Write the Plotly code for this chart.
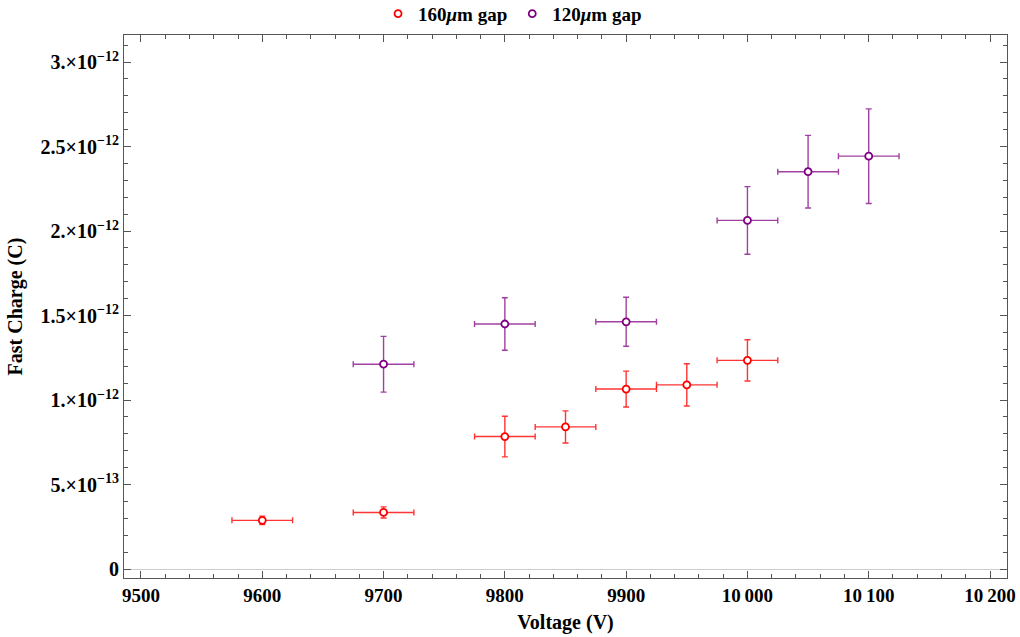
import plotly.graph_objects as go

# Data
v160 = [9600, 9700, 9800, 9850, 9900, 9950, 10000]
q160 = [0.288e-12, 0.335e-12, 0.784e-12, 0.841e-12, 1.065e-12, 1.090e-12, 1.235e-12]
e160 = [0.025e-12, 0.033e-12, 0.120e-12, 0.095e-12, 0.106e-12, 0.125e-12, 0.122e-12]

v120 = [9700, 9800, 9900, 10000, 10050, 10100]
q120 = [1.212e-12, 1.450e-12, 1.463e-12, 2.063e-12, 2.351e-12, 2.443e-12]
e120 = [0.165e-12, 0.155e-12, 0.145e-12, 0.200e-12, 0.215e-12, 0.280e-12]

xerr = 25

yticks = [0, 0.5e-12, 1.0e-12, 1.5e-12, 2.0e-12, 2.5e-12, 3.0e-12]
yticktext = ["0", "5.×10<sup>−13</sup>", "1.×10<sup>−12</sup>", "1.5×10<sup>−12</sup>",
             "2.×10<sup>−12</sup>", "2.5×10<sup>−12</sup>", "3.×10<sup>−12</sup>"]
xticks = [9500, 9600, 9700, 9800, 9900, 10000, 10100, 10200]
xticktext = ["9500", "9600", "9700", "9800", "9900", "10\u2009000", "10\u2009100", "10\u2009200"]

FONT = "Liberation Serif"

fig = go.Figure()

def add_series(x, y, ey, color, ecolor, name):
    fig.add_trace(go.Scatter(
        x=x, y=y, mode="markers", name=name,
        marker=dict(symbol="circle", size=7, color="white",
                    line=dict(color=color, width=1.8)),
        error_y=dict(type="data", array=ey, visible=True, color=ecolor,
                     thickness=1.4, width=3),
        error_x=dict(type="constant", value=xerr, visible=True, color=ecolor,
                     thickness=1.4, width=3),
    ))

add_series(v160, q160, e160, "#ff0000", "rgba(255,0,0,0.8)", "160<i>μ</i>m gap")
add_series(v120, q120, e120, "#800080", "rgba(128,0,128,0.75)", "120<i>μ</i>m gap")

axis_common = dict(
    showline=True, linecolor="#555555", linewidth=1, mirror="ticks",
    ticks="inside", ticklen=7, tickcolor="#555555", tickwidth=1,
    showgrid=False, automargin=False, ticklabeloverflow="allow",
)

fig.update_xaxes(
    range=[9486, 10214], tickvals=xticks, ticktext=xticktext,
    tickfont=dict(family=FONT, size=19, color="black", weight="bold"),
    minor=dict(dtick=20, tick0=9500, ticks="inside", ticklen=4, tickcolor="#555555"),
    zeroline=False,
    title=dict(text="Voltage (V)", font=dict(family=FONT, size=20, color="black", weight="bold"),
               standoff=10),
    **axis_common,
)
fig.update_yaxes(
    range=[-0.053e-12, 3.16e-12], tickvals=yticks, ticktext=yticktext,
    tickfont=dict(family=FONT, size=20, color="black", weight="bold"),
    minor=dict(dtick=0.1e-12, tick0=0, ticks="inside", ticklen=4, tickcolor="#555555"),
    zeroline=True, zerolinecolor="#cccccc", zerolinewidth=1,
    title=dict(text="Fast Charge (C)", font=dict(family=FONT, size=20, color="black", weight="bold"),
               standoff=12),
    **axis_common,
)

fig.update_layout(
    width=1020, height=637,
    plot_bgcolor="white", paper_bgcolor="white",
    margin=dict(l=124, r=13, t=35, b=59, autoexpand=False),
    showlegend=True,
    legend=dict(orientation="h", x=0.44, xanchor="center", y=1.039, yanchor="middle",
                font=dict(family=FONT, size=19, color="black", weight="bold"),
                itemwidth=30, bgcolor="rgba(0,0,0,0)"),
)

fig.write_html("out.html", config={"displayModeBar": False},
               post_script="document.body.style.margin='0';")
